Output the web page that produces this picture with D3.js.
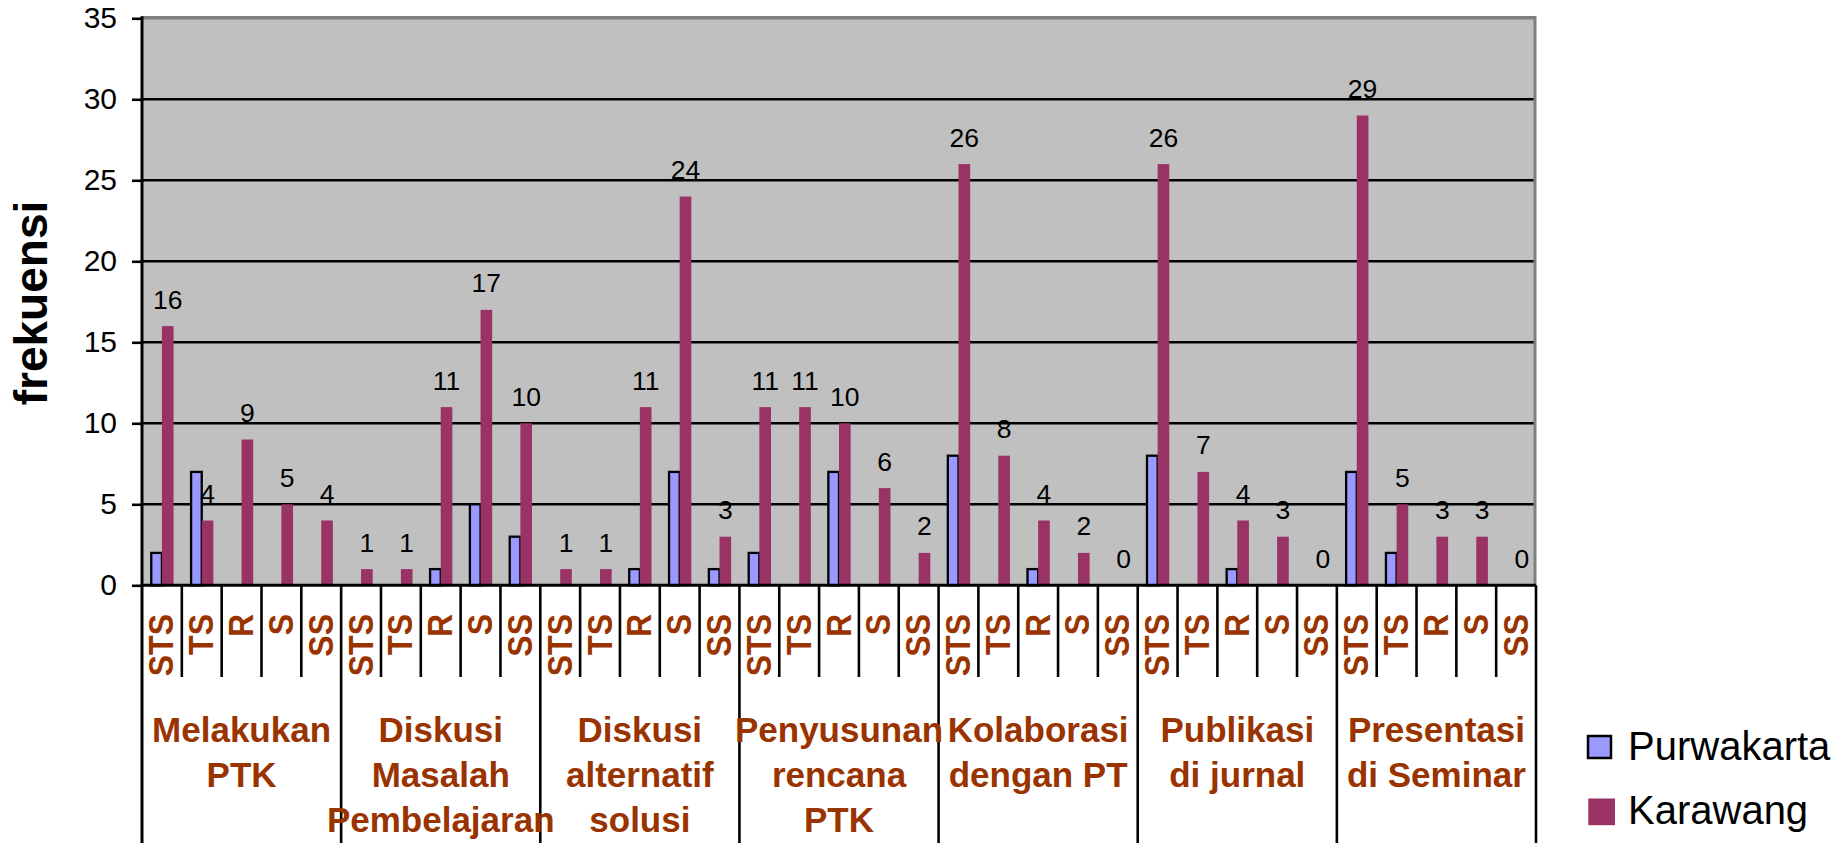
<!DOCTYPE html>
<html>
<head>
<meta charset="utf-8">
<script src="https://cdn.jsdelivr.net/npm/d3@7"></script>
<style>
  html, body { margin: 0; padding: 0; background: #ffffff; }
  svg { display: block; font-family: "Liberation Sans", Arial, sans-serif; }
</style>
</head>
<body>
<svg id="chart" width="1836" height="843"></svg>
<script>
// ---- data ----
const groupLabels = [
  ["Melakukan", "PTK"],
  ["Diskusi", "Masalah", "Pembelajaran"],
  ["Diskusi", "alternatif", "solusi"],
  ["Penyusunan", "rencana", "PTK"],
  ["Kolaborasi", "dengan PT"],
  ["Publikasi", "di jurnal"],
  ["Presentasi", "di Seminar"]
];
const subCategories = ["STS", "TS", "R", "S", "SS"];
const seriesNames = ["Purwakarta", "Karawang"];
const purwakarta = [2, 7, 0, 0, 0,  0, 0, 1, 5, 3,  0, 0, 1, 7, 1,  2, 0, 7, 0, 0,  8, 0, 1, 0, 0,  8, 0, 1, 0, 0,  7, 2, 0, 0, 0];
const karawang   = [16, 4, 9, 5, 4,  1, 1, 11, 17, 10,  1, 1, 11, 24, 3,  11, 11, 10, 6, 2,  26, 8, 4, 2, 0,  26, 7, 4, 3, 0,  29, 5, 3, 3, 0];
const yTicks = [0, 5, 10, 15, 20, 25, 30, 35];
const yTitle = "frekuensi";

(function () {
// ---- layout ----
const colors = { Purwakarta: "#9999FF", Karawang: "#993366" };
const svg = d3.select("#chart");
const pLeft = 142, pRight = 1536, pTop = 18.3, pBottom = 585.3;

const slots = [];
groupLabels.forEach((g, gi) => subCategories.forEach((s, si) => slots.push({ id: gi + "-" + si, gi, si, sub: s })));

const x0 = d3.scaleBand().domain(slots.map(d => d.id)).range([pLeft, pRight]).padding(0);
const x1 = d3.scaleBand().domain(seriesNames).range([0, x0.bandwidth()]).paddingInner(0).paddingOuter(0.71);
const y = d3.scaleLinear().domain([0, 35]).range([pBottom, pTop]);
const groupScale = d3.scaleBand().domain(groupLabels.map((d, i) => i)).range([pLeft, pRight]);

// plot background
svg.append("rect").attr("x", pLeft).attr("y", y(35)).attr("width", pRight - pLeft).attr("height", y(0) - y(35)).attr("fill", "#C0C0C0");

// gridlines
svg.append("g").selectAll("line").data(yTicks.filter(t => t > 0 && t < 35)).join("line")
  .attr("x1", pLeft).attr("x2", pRight - 2).attr("y1", d => y(d)).attr("y2", d => y(d))
  .attr("stroke", "#000").attr("stroke-width", 2.6);

// plot border top/right (gray)
svg.append("line").attr("x1", pLeft).attr("x2", pRight).attr("y1", y(35) - 0.5).attr("y2", y(35) - 0.5).attr("stroke", "#808080").attr("stroke-width", 3.5);
svg.append("line").attr("x1", pRight - 1).attr("x2", pRight - 1).attr("y1", y(35) - 2).attr("y2", y(0)).attr("stroke", "#808080").attr("stroke-width", 3);

// bars
const barData = slots.map((s, i) => ({ slot: s, Purwakarta: purwakarta[i], Karawang: karawang[i] }));
const bars = svg.append("g");
bars.selectAll("rect.p").data(barData.filter(d => d.Purwakarta > 0)).join("rect").attr("class", "p")
  .attr("x", d => x0(d.slot.id) + x1("Purwakarta") + 1)
  .attr("y", d => y(d.Purwakarta))
  .attr("width", x1.bandwidth() - 1)
  .attr("height", d => y(0) - y(d.Purwakarta))
  .attr("fill", colors.Purwakarta).attr("stroke", "#000").attr("stroke-width", 2.3);
bars.selectAll("rect.k").data(barData.filter(d => d.Karawang > 0)).join("rect").attr("class", "k")
  .attr("x", d => x0(d.slot.id) + x1("Karawang"))
  .attr("y", d => y(d.Karawang))
  .attr("width", x1.bandwidth())
  .attr("height", d => y(0) - y(d.Karawang))
  .attr("fill", colors.Karawang);

// value labels (Karawang)
svg.append("g").selectAll("text").data(barData).join("text")
  .attr("x", d => x0(d.slot.id) + x1("Karawang") + x1.bandwidth() / 2)
  .attr("y", d => y(d.Karawang) - 17.5)
  .attr("text-anchor", "middle")
  .attr("font-size", 26.5).attr("fill", "#000")
  .text(d => d.Karawang);

// y axis
const yAxis = d3.axisLeft(y).tickValues(yTicks).tickSize(10).tickPadding(15).tickSizeOuter(0);
const ag = svg.append("g").attr("transform", `translate(${pLeft},0)`).call(yAxis);
ag.select(".domain").remove();
ag.selectAll(".tick line").attr("stroke", "#000").attr("stroke-width", 2.6);
ag.selectAll(".tick text").attr("font-size", 30).attr("fill", "#000").attr("font-family", "Liberation Sans, Arial, sans-serif");

// left axis line (through label area)
svg.append("line").attr("x1", pLeft).attr("x2", pLeft).attr("y1", y(35) - 2).attr("y2", 843).attr("stroke", "#000").attr("stroke-width", 3);
// x axis line
svg.append("line").attr("x1", pLeft).attr("x2", pRight).attr("y1", y(0)).attr("y2", y(0)).attr("stroke", "#000").attr("stroke-width", 3);

// category separators
const bounds = d3.range(0, slots.length + 1);
svg.append("g").selectAll("line").data(bounds.filter(i => i > 0)).join("line")
  .attr("x1", i => i < slots.length ? x0(slots[i].id) : pRight)
  .attr("x2", i => i < slots.length ? x0(slots[i].id) : pRight)
  .attr("y1", y(0))
  .attr("y2", i => i % 5 === 0 ? 843 : 677)
  .attr("stroke", "#000").attr("stroke-width", 2.6);

// sub-category labels (rotated)
svg.append("g").selectAll("text").data(slots).join("text")
  .attr("transform", d => `translate(${x0(d.id) + x0.bandwidth() / 2 + 11.5},614) rotate(-90) scale(1,1.12)`)
  .attr("text-anchor", "end")
  .attr("font-size", 32).attr("font-weight", "bold").attr("fill", "#993300")
  .text(d => d.sub);

// group labels
const gl = svg.append("g").selectAll("text").data(groupLabels).join("text")
  .attr("x", (d, i) => groupScale(i) + groupScale.bandwidth() / 2)
  .attr("y", 741.7)
  .attr("text-anchor", "middle")
  .attr("font-size", 35).attr("font-weight", "bold").attr("fill", "#993300");
gl.selectAll("tspan").data(d => d).join("tspan")
  .attr("x", function () { return d3.select(this.parentNode).attr("x"); })
  .attr("dy", (d, i) => i === 0 ? 0 : 45)
  .text(d => d);

// y title
svg.append("text")
  .attr("transform", "translate(46.5,303) rotate(-90)")
  .attr("text-anchor", "middle")
  .attr("font-size", 46).attr("font-weight", "bold").attr("fill", "#000")
  .text(yTitle);

// legend
const leg = svg.append("g").selectAll("g").data(seriesNames).join("g")
  .attr("transform", (d, i) => `translate(0,${i * 63.5})`);
leg.append("rect")
  .attr("x", (d, i) => i === 0 ? 1588 : 1588.3)
  .attr("y", (d, i) => i === 0 ? 736 : 735)
  .attr("width", (d, i) => i === 0 ? 23 : 26.7)
  .attr("height", (d, i) => i === 0 ? 22 : 26.7)
  .attr("fill", d => colors[d])
  .attr("stroke", (d, i) => i === 0 ? "#000" : "none").attr("stroke-width", 2.5);
leg.append("text")
  .attr("x", 1628).attr("y", 760)
  .attr("font-size", 40).attr("fill", "#000")
  .text(d => d);
})();
</script>
</body>
</html>
